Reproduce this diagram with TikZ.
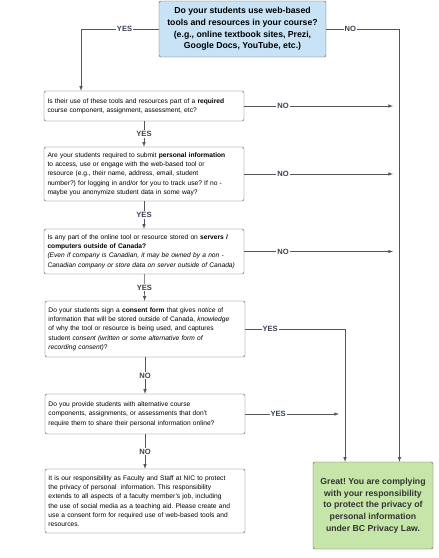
\documentclass[tikz,border=0pt]{standalone}
\usepackage{fontspec}
\setmainfont{Liberation Sans}
\frenchspacing
\usetikzlibrary{positioning,calc}
\definecolor{startblue}{HTML}{C7E3F5}
\definecolor{endgreen}{HTML}{C6E6A9}
\definecolor{linegray}{HTML}{555555}
\definecolor{labelgray}{HTML}{3A4252}
\tikzset{question/.style={draw=linegray,fill=white,rounded corners=2pt,minimum width=200pt,text width=193pt,align=left,inner sep=3.5pt,font=\fontsize{6.65}{9.3}\selectfont}}
\tikzset{start/.style={draw=linegray,fill=startblue,rounded corners=2pt,minimum width=167pt,minimum height=56pt,align=center,inner sep=2pt,font=\fontsize{8.7}{11.7}\selectfont\bfseries}}
\tikzset{finish/.style={draw=linegray,fill=endgreen,rounded corners=2pt,minimum width=120pt,minimum height=87pt,align=center,inner sep=2pt,text=black!80,font=\fontsize{8.7}{11.7}\selectfont\bfseries}}
\tikzset{flow/.style={color=linegray,line width=0.6pt}}
\tikzset{answer/.style={fill=white,text=labelgray,inner sep=1pt,font=\fontsize{7.6}{8}\selectfont\bfseries}}

\begin{document}
\begin{tikzpicture}[x=1pt,y=-1pt]
    \useasboundingbox (0,0) rectangle (439,558);
    \node[start] (Q0) at (242.5,29) {Do your students use web-based\\tools and resources in your course?\\(e.g., online textbook sites, Prezi,\\Google Docs, YouTube, etc.)};
    \node[question,minimum height=30pt] (Q1) at (144,106) {Is their use of these tools and resources part of a \textbf{required}\\course component, assignment, assessment, etc?};
    \node[question,minimum height=54pt] (Q2) at (144,174) {Are your students required to submit \textbf{personal information}\\to access, use or engage with the web-based tool or\\resource (e.g., their name, address, email, student\\number?) for logging in and/or for you to track use? If no -\\maybe you anonymize student data in some way?};
    \node[question,minimum height=45pt] (Q3) at (144,251.5) {Is any part of the online tool or resource stored on \textbf{servers /}\\\textbf{computers outside of Canada?}\\\textit{(Even if company is Canadian, it may be owned by a non -}\\\textit{Canadian company or store data on server outside of Canada)}};
    \node[question,minimum height=56pt] (Q4) at (145,329) {Do your students sign a \textbf{consent form} that gives \textit{notice} of\\information that will be stored outside of Canada, \textit{knowledge}\\of why the tool or resource is being used, and captures\\student \textit{consent (written or some alternative form of}\\\textit{recording consent)}?};
    \node[question,minimum height=40pt] (Q5) at (145,414) {Do you provide students with alternative course\\components, assignments, or assessments that don't\\require them to share their personal information online?};
    \node[question,minimum height=64pt] (Q6) at (145,501) {It is our responsibility as Faculty and Staff at NIC to protect\\the privacy of personal\ \ information. This responsibility\\extends to all aspects of a faculty member's job, including\\the use of social media as a teaching aid. Please create and\\use a consent form for required use of web-based tools and\\resources.};
    \node[finish] (OK) at (373,505.5) {Great! You are complying\\with your responsibility\\to protect the privacy of\\personal information\\under BC Privacy Law.};
    % turning points of the long connectors
    \coordinate (L) at (81,0);
    \coordinate (R) at (399.5,0);
    \coordinate (C) at (345,0);
    \draw[flow,-latex] (Q0.west) -- (Q0.west -| L) node[answer,pos=0.44] {YES} -- (L |- Q1.north);
    \draw[flow,-latex] (Q0.east) -- (Q0.east -| R) node[answer,pos=0.33] {NO} -- (R |- OK.north);
    \foreach \q in {Q1,Q2,Q3}
        \draw[flow,-latex,shorten >=6.5pt] (\q.east) -- (\q.east -| R) node[answer,pos=0.25] {NO};
    \draw[flow,-latex] (Q1) -- (Q2) node[answer,midway] {YES};
    \draw[flow,-latex] (Q2) -- (Q3) node[answer,midway] {YES};
    \draw[flow,-latex] (Q3) -- (Q4) node[answer,midway] {YES};
    \draw[flow,-latex] (Q4) -- (Q5) node[answer,midway] {NO};
    \draw[flow,-latex] (Q5) -- (Q6) node[answer,midway] {NO};
    \draw[flow,-latex] (Q4.east) -- (Q4.east -| C) node[answer,pos=0.25] {YES} -- (C |- OK.north);
    \draw[flow,-latex,shorten >=6pt] (Q5.east) -- (Q5.east -| C) node[answer,pos=0.33] {YES};
\end{tikzpicture}
\end{document}
